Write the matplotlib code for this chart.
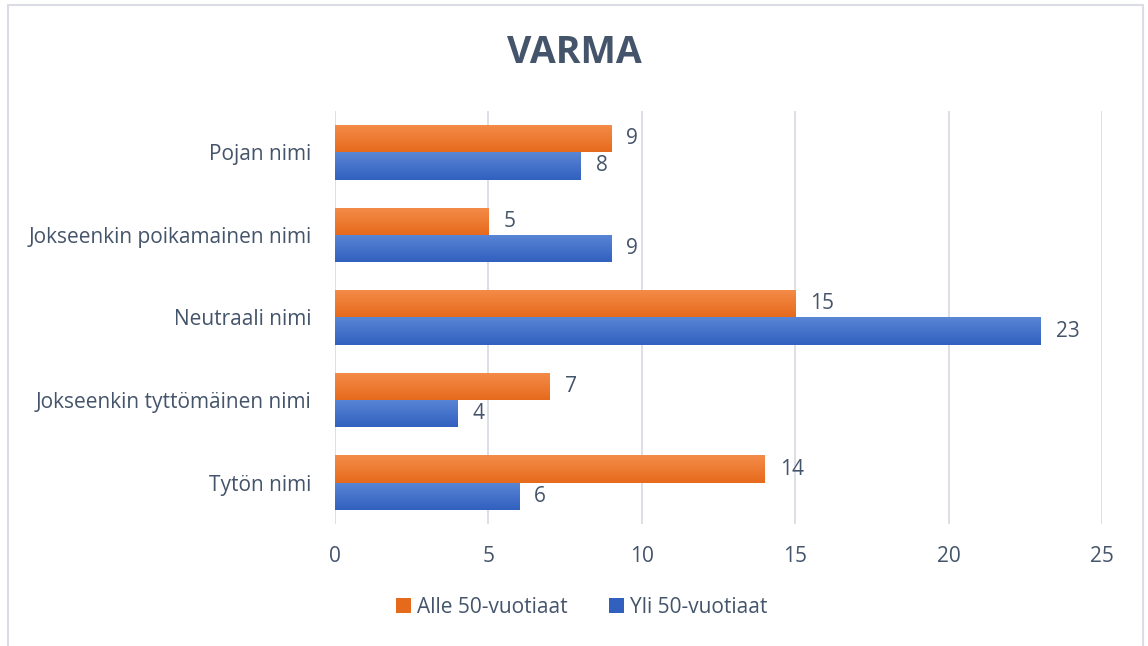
import numpy as np
import matplotlib
matplotlib.use("Agg")
import matplotlib.pyplot as plt
from matplotlib.colors import LinearSegmentedColormap
from matplotlib.patches import Rectangle, Patch

categories = ["Pojan nimi", "Jokseenkin poikamainen nimi", "Neutraali nimi",
              "Jokseenkin tyttömäinen nimi", "Tytön nimi"]
alle_50 = [9, 5, 15, 7, 14]
yli_50 = [8, 9, 23, 4, 6]
series_names = ["Alle 50-vuotiaat", "Yli 50-vuotiaat"]
x_ticks = [0, 5, 10, 15, 20, 25]

text_col = "#44546a"
grid_col = "#d9dde4"
orange = ("#f48c49", "#e66a1c")
blue = ("#5a86d6", "#3160bf")

plt.rcParams["font.family"] = ["Open Sans", "DejaVu Sans"]

fig = plt.figure(figsize=(11.48, 6.46), dpi=100)
ax = fig.add_axes([0.2918, 0.1889, 0.6681, 0.6393])

# chart border
fig.patches.append(Rectangle((8 / 1148, -0.01), 1135 / 1148, 1 - 5 / 646 + 0.01,
                             transform=fig.transFigure, fill=False,
                             edgecolor="#dadde3", linewidth=1.5))

pos = np.arange(len(categories))[::-1]
h = 0.33


def grad_bars(values, offset, cols):
    bars = ax.barh(pos + offset, values, height=h, color=cols[1], zorder=3)
    cmap = LinearSegmentedColormap.from_list("g", [cols[1], cols[0]])
    grad = np.linspace(0, 1, 64).reshape(-1, 1)
    for b in bars:
        x0, y0 = b.get_x(), b.get_y()
        im = ax.imshow(grad, cmap=cmap, aspect="auto", origin="lower",
                       extent=(x0, x0 + b.get_width(), y0, y0 + b.get_height()),
                       zorder=3.5)
        im.set_clip_path(b)
    for b, v in zip(bars, values):
        ax.annotate(str(v), (b.get_width(), b.get_y() + b.get_height() / 2),
                    xytext=(11, 0), textcoords="offset points", va="center",
                    ha="left", fontsize=15, color=text_col)
    return bars


grad_bars(alle_50, h / 2, orange)
grad_bars(yli_50, -h / 2, blue)

ax.set_xlim(0, 25)
ax.set_ylim(-0.5, len(categories) - 0.5)
ax.set_xticks(x_ticks)
ax.set_yticks(pos)
ax.set_yticklabels(categories)
ax.tick_params(axis="both", length=0, labelsize=15, labelcolor=text_col)
ax.tick_params(axis="x", pad=16)
ax.tick_params(axis="y", pad=17)
ax.grid(axis="x", color=grid_col, linewidth=1.3, zorder=0)
for s in ax.spines.values():
    s.set_visible(False)

fig.text(0.5, 0.918, "VARMA", ha="center", va="center", fontsize=27,
         fontweight="bold", color=text_col)

handles = [Patch(facecolor=orange[1]), Patch(facecolor=blue[1])]
fig.legend(handles, series_names, loc="center", bbox_to_anchor=(0.507, 0.06),
           ncol=2, frameon=False, fontsize=15, labelcolor=text_col,
           handlelength=0.7, handleheight=0.7, handletextpad=0.3,
           columnspacing=2.0)

fig.savefig("out.png", dpi=100)
